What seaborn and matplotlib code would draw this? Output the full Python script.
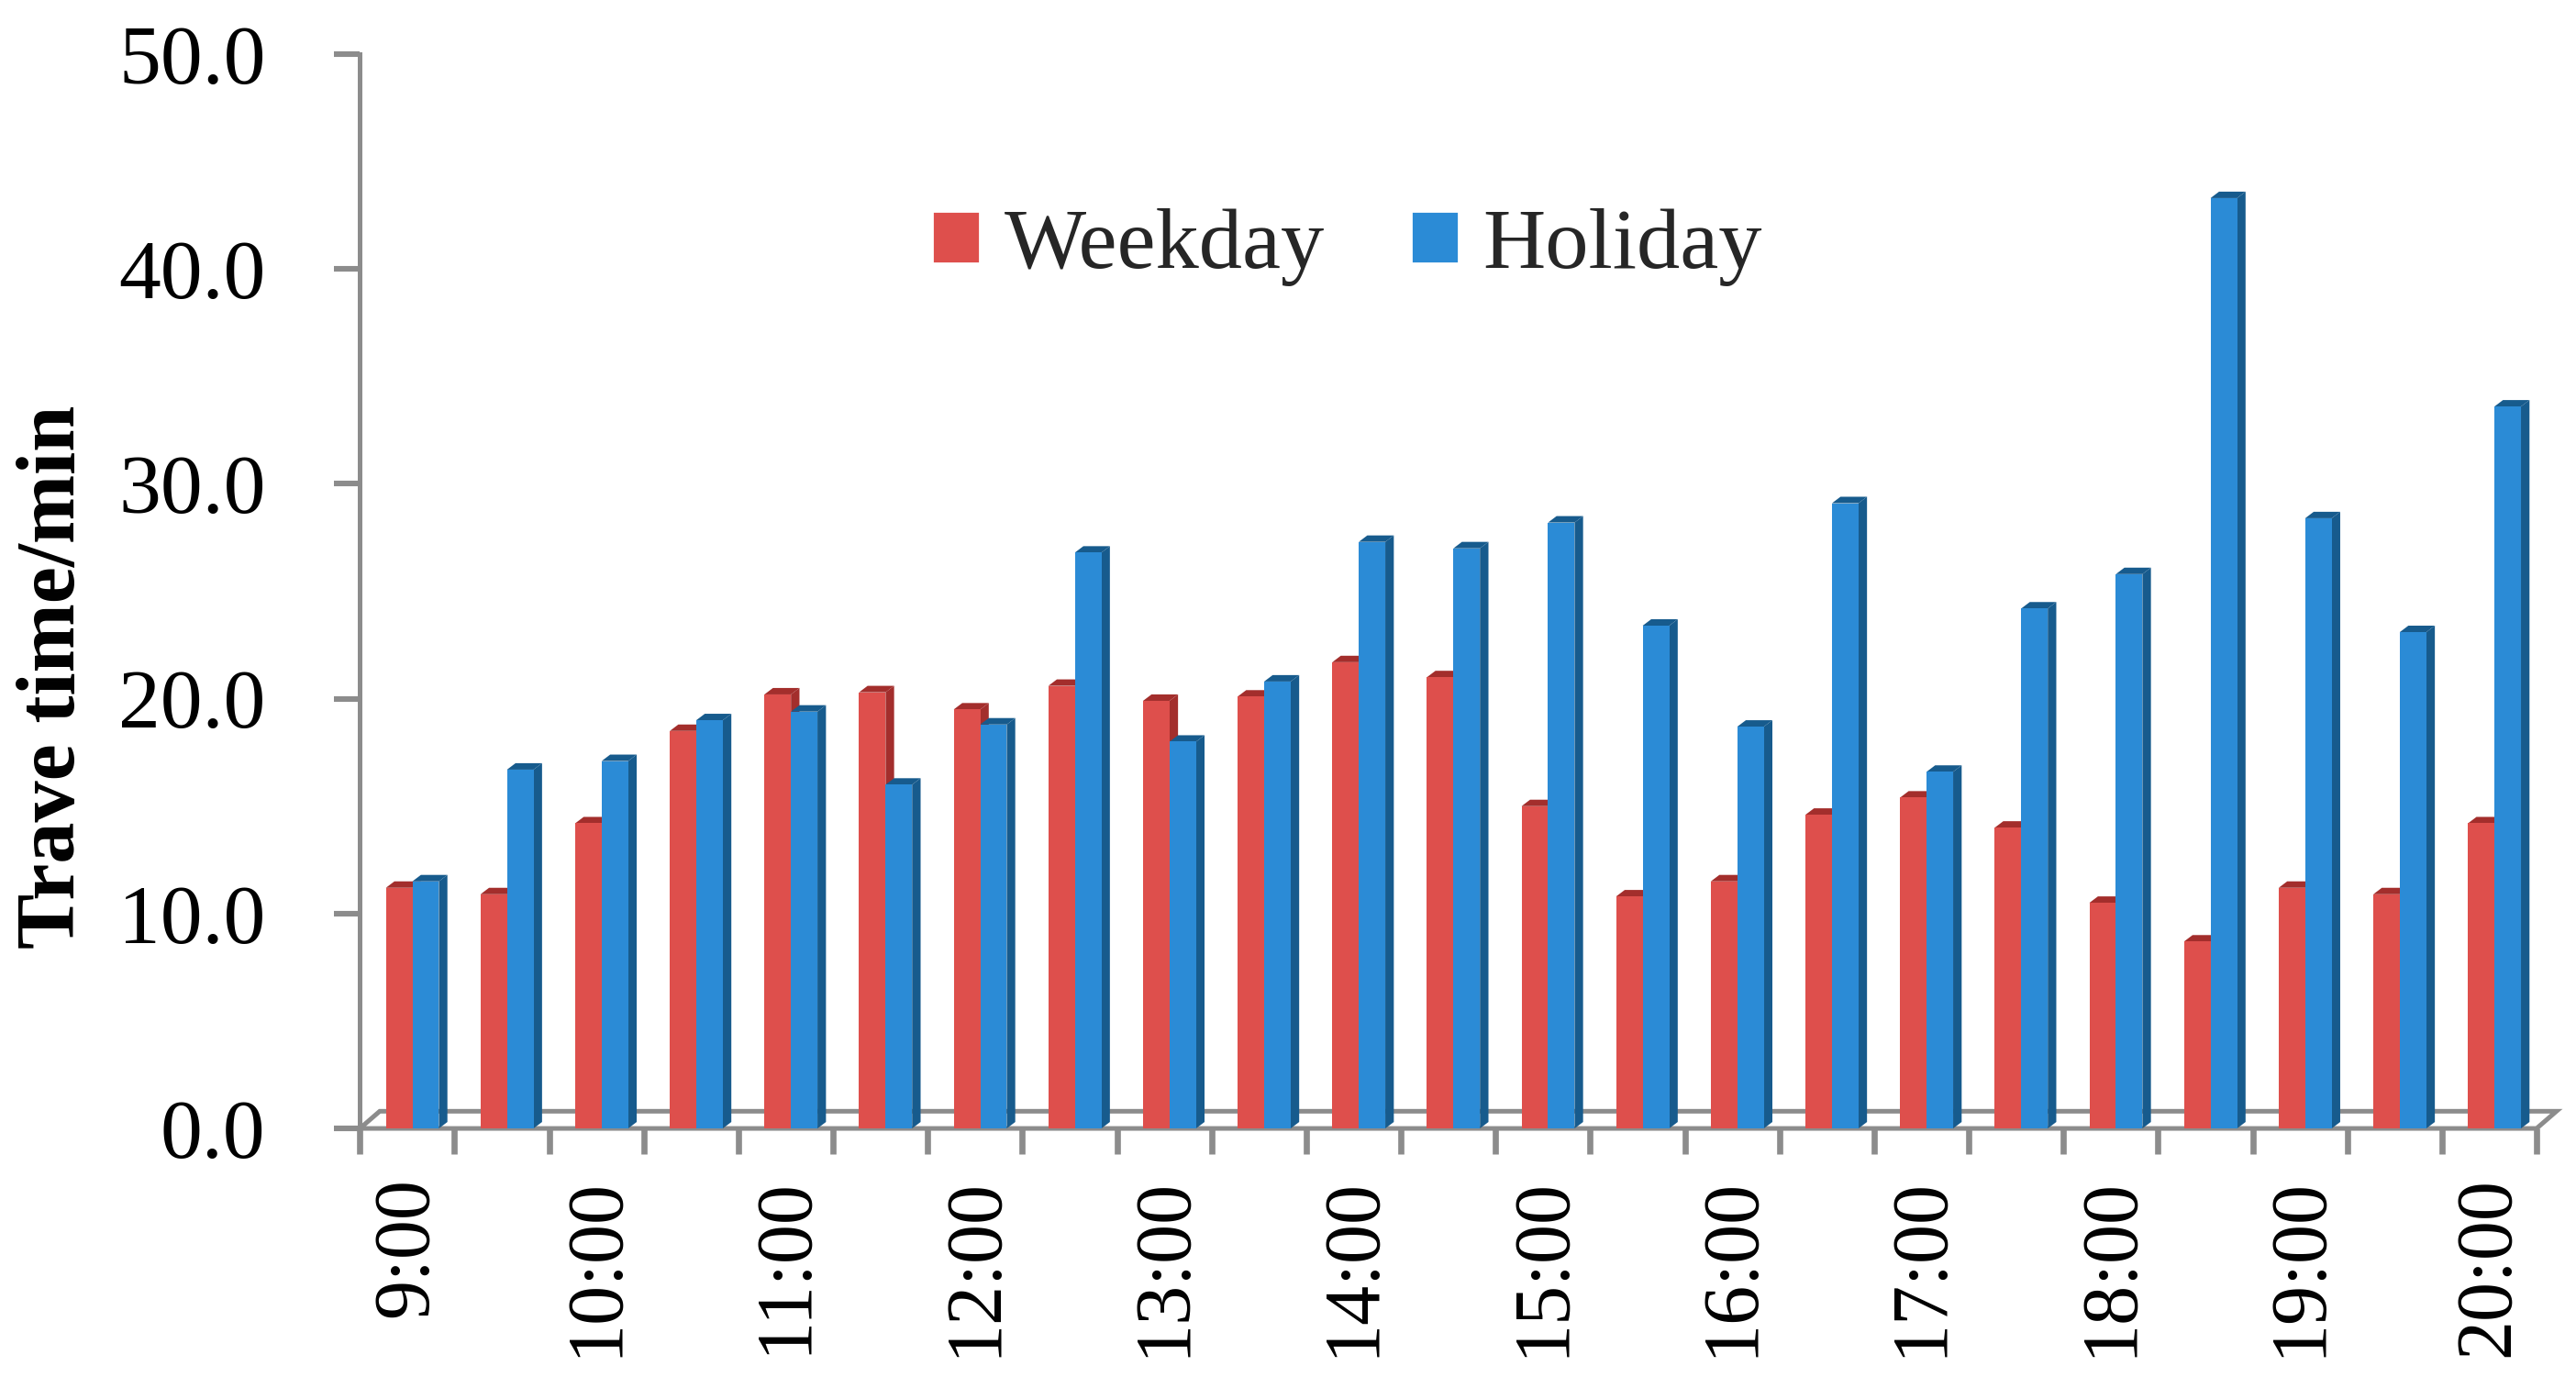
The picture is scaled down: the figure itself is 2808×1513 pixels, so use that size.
import numpy as np
import pandas as pd
import seaborn as sns
import matplotlib.pyplot as plt
from matplotlib.patches import Polygon, Patch

# half-hour slots 9:00 .. 20:00
times = ["9:00", "9:30", "10:00", "10:30", "11:00", "11:30", "12:00", "12:30",
         "13:00", "13:30", "14:00", "14:30", "15:00", "15:30", "16:00", "16:30",
         "17:00", "17:30", "18:00", "18:30", "19:00", "19:30", "20:00"]
weekday = [11.2, 10.9, 14.2, 18.5, 20.2, 20.3, 19.5, 20.6, 19.9, 20.1, 21.7, 21.0,
           15.0, 10.8, 11.5, 14.6, 15.4, 14.0, 10.5, 8.7, 11.2, 10.9, 14.2]
holiday = [11.5, 16.7, 17.1, 19.0, 19.4, 16.0, 18.8, 26.8, 18.0, 20.8, 27.3, 27.0,
           28.2, 23.4, 18.7, 29.1, 16.6, 24.2, 25.8, 43.3, 28.4, 23.1, 33.6]
hour_labels = times[::2]
series = ["Weekday", "Holiday"]

red, red_dark = "#DE4F4C", "#A32E2C"
blue, blue_dark = "#2B8BD6", "#175B8D"
gray = "#8C8C8C"

df = pd.DataFrame({
    "time": times * 2,
    "value": weekday + holiday,
    "type": [series[0]] * len(times) + [series[1]] * len(times),
})

sns.set_theme(style="white")
plt.rcParams["font.family"] = ["Liberation Serif", "DejaVu Serif"]

fig = plt.figure(figsize=(14.04, 7.565), dpi=200)
ax = fig.add_axes([0.1397, 0.187, 0.845, 0.774])

sns.barplot(data=df, x="time", y="value", hue="type", hue_order=series,
            palette=[red, blue], width=0.56, saturation=1, legend=False,
            linewidth=0, edgecolor="none", ax=ax)

# fake 3d: bars sit a bit back on the floor, with side and top faces
shift = 0.055
dx, dy = 0.09, 0.3
for i, (cont, dark) in enumerate(zip(ax.containers, [red_dark, blue_dark])):
    base_z = 3 + 2 * i
    for bar in cont:
        bar.set_zorder(base_z)
        bar.set_x(bar.get_x() + shift)
        x0, w, h = bar.get_x(), bar.get_width(), bar.get_height()
        side = Polygon([(x0 + w, 0), (x0 + w + dx, dy), (x0 + w + dx, h + dy), (x0 + w, h)],
                       closed=True, facecolor=dark, edgecolor="none", zorder=base_z - 0.5)
        top = Polygon([(x0, h), (x0 + dx, h + dy), (x0 + w + dx, h + dy), (x0 + w, h)],
                      closed=True, facecolor=dark, edgecolor="none", zorder=base_z - 0.5)
        ax.add_patch(side)
        ax.add_patch(top)

ax.set_xlim(-0.5, len(times) - 0.5)
ax.set_ylim(0, 50)

# floor outline
fdx, fdy = 0.21, 0.8
floor = Polygon([(-0.5, 0), (len(times) - 0.5, 0), (len(times) - 0.5 + fdx, fdy), (-0.5 + fdx, fdy)],
                closed=True, fill=False, edgecolor=gray, linewidth=1.8, clip_on=False, zorder=1)
ax.add_patch(floor)

for s in ["top", "right", "bottom"]:
    ax.spines[s].set_visible(False)
ax.spines["left"].set_color(gray)
ax.spines["left"].set_linewidth(1.8)

ax.set_yticks(range(0, 51, 10))
ax.set_yticklabels([f"{v:.1f}" for v in range(0, 51, 10)], fontsize=33)
ax.tick_params(axis="y", left=True, length=10, width=2.2, color=gray, pad=27, labelcolor="black")

ax.set_xticks(np.arange(-0.5, len(times), 1))
ax.set_xticklabels([])
ax.set_xticks(range(0, len(times), 2), minor=True)
ax.set_xticklabels(hour_labels, minor=True, rotation=90, fontsize=31, va="top")
ax.tick_params(axis="x", which="major", bottom=True, length=10, width=2.4, color=gray)
ax.tick_params(axis="x", which="minor", bottom=True, length=0, pad=19, labelcolor="black")

ax.set_xlabel("")
ax.set_ylabel("Trave time/min", fontsize=32.5, fontweight="bold", color="black")
ax.yaxis.set_label_coords(-0.123, 0.42)

handles = [Patch(facecolor=red, label=series[0]), Patch(facecolor=blue, label=series[1])]
fig.legend(handles=handles, loc="center", bbox_to_anchor=(0.523, 0.822), ncol=2,
           frameon=False, fontsize=34, handlelength=0.55, handleheight=0.55,
           handletextpad=0.28, columnspacing=1.0)

fig.savefig("out.png", dpi=200)
